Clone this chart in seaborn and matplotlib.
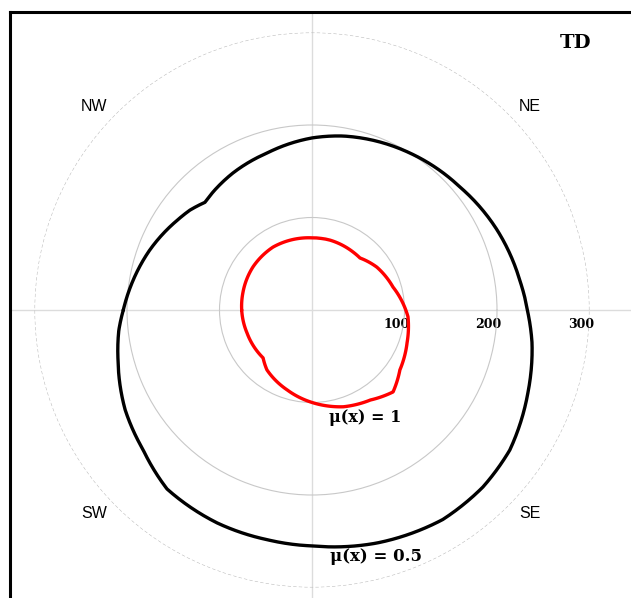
import numpy as np
import matplotlib
matplotlib.use("Agg")
import matplotlib.pyplot as plt
import seaborn as sns

# Membership contours in polar form: direction (deg, counter-clockwise from east) and radius
theta_half = [-180, -174, -165.5, -151.9, -140.4, -129, -114, -101, -93, -90,
              -74.4, -58, -46, -35.3, -21, -8.5, -0.8, 8, 23.4, 39.7, 58, 80,
              90, 106, 120, 130, 134.7, 140.7, 146.3, 159.7, 170.5, 180]
r_half = [204, 210, 216.6, 229, 237, 249, 252, 253, 254.5, 255,
          261.5, 267, 266, 262, 250, 240.5, 233.5, 227, 218, 208, 200, 191,
          186, 176.5, 171, 166.5, 164, 170.5, 175, 187, 196, 204]

theta_one = [-180, -160.5, -135.6, -127, -107, -89, -72, -57, -45.3, -34.3,
             -19, -4, 15.8, 33.5, 47.3, 54.7, 75.6, 90, 121.8, 143.9, 166, 180]
r_one = [76, 74.5, 74, 81, 90.6, 100.5, 110, 116, 124.6, 115,
         108.7, 104, 91, 84, 76.5, 76.8, 78, 78, 80, 79, 77, 76]

r_ticks = [100, 200, 300]
directions = ["NE", "NW", "SW", "SE"]
direction_angles = [43, 137, 223, 317]
title = "TD"

sns.set_style("white")
plt.rcParams["font.family"] = ["DejaVu Serif"]
plt.rcParams["text.color"] = "black"

W, H, DPI = 631, 598, 100
fig = plt.figure(figsize=(W / DPI, H / DPI), dpi=DPI)

# geometry of the polar disc in pixels
cx, cy = 312.0, 310.0          # centre, measured from left / top
R = 277.5                      # pixel radius of the outer ring
RMAX = 300.0
scale = R / RMAX

# background frame with cross hairs, in the same units as the radius
left_px, top_px = 10.0, 11.5
ax0 = fig.add_axes([left_px / W, 0, (W - left_px) / W, (H - top_px) / H])
ax0.set_xlim((left_px - cx) / scale, (W - cx) / scale)
ax0.set_ylim((cy - H) / scale, (cy - top_px) / scale)
ax0.set_xticks([])
ax0.set_yticks([])
for side in ["right", "bottom"]:
    ax0.spines[side].set_visible(False)
for side in ["left", "top"]:
    ax0.spines[side].set_color("black")
    ax0.spines[side].set_linewidth(2.2)
ax0.axhline(0, color="#dcdcdc", lw=1.0, zorder=0)
ax0.axvline(0, color="#dcdcdc", lw=1.0, zorder=0)

# polar axes holding the rings and the contours
axp = fig.add_axes([(cx - R) / W, (H - cy - R) / H, 2 * R / W, 2 * R / H],
                   projection="polar")
axp.set_facecolor("none")
axp.set_ylim(0, RMAX)
axp.set_xticks([])
axp.set_yticks(r_ticks)
axp.set_yticklabels([])
axp.spines["polar"].set_visible(False)
axp.yaxis.grid(True, color="#c8c8c8", lw=0.8)
grid_lines = axp.yaxis.get_gridlines()
grid_lines[-1].set_linestyle((0, (3, 2)))
grid_lines[-1].set_color("#bdbdbd")

sns.lineplot(x=np.deg2rad(theta_half), y=r_half, sort=False, estimator=None,
             color="black", lw=2.4, ax=axp)
sns.lineplot(x=np.deg2rad(theta_one), y=r_one, sort=False, estimator=None,
             color="red", lw=2.4, ax=axp)
# follow the polar geometry between readings (spiral segments, not chords)
for ln in axp.lines:
    ln.get_path()._interpolation_steps = 40
axp.set_xlabel("")
axp.set_ylabel("")

# radial tick values just below the east axis
for v in r_ticks:
    ax0.text(v - 9, -9, str(v), ha="center", va="top", fontsize=9,
             fontweight="bold", family="DejaVu Serif")

# compass labels
for name, ang in zip(directions, direction_angles):
    rr = 322
    ax0.text(rr * np.cos(np.deg2rad(ang)), rr * np.sin(np.deg2rad(ang)), name,
             ha="center", va="center", fontsize=11.5, family="Liberation Sans")

# contour captions
ax0.text(58, -116, "μ(x) = 1", ha="center", va="center",
         fontsize=11.5, fontweight="bold", family="DejaVu Serif")
ax0.text(69, -267, "μ(x) = 0.5", ha="center", va="center",
         fontsize=12, fontweight="bold", family="DejaVu Serif")

ax0.text(285, 289, title, ha="center", va="center", fontsize=14,
         fontweight="bold", family="DejaVu Serif")

fig.savefig("out.png", dpi=DPI)
